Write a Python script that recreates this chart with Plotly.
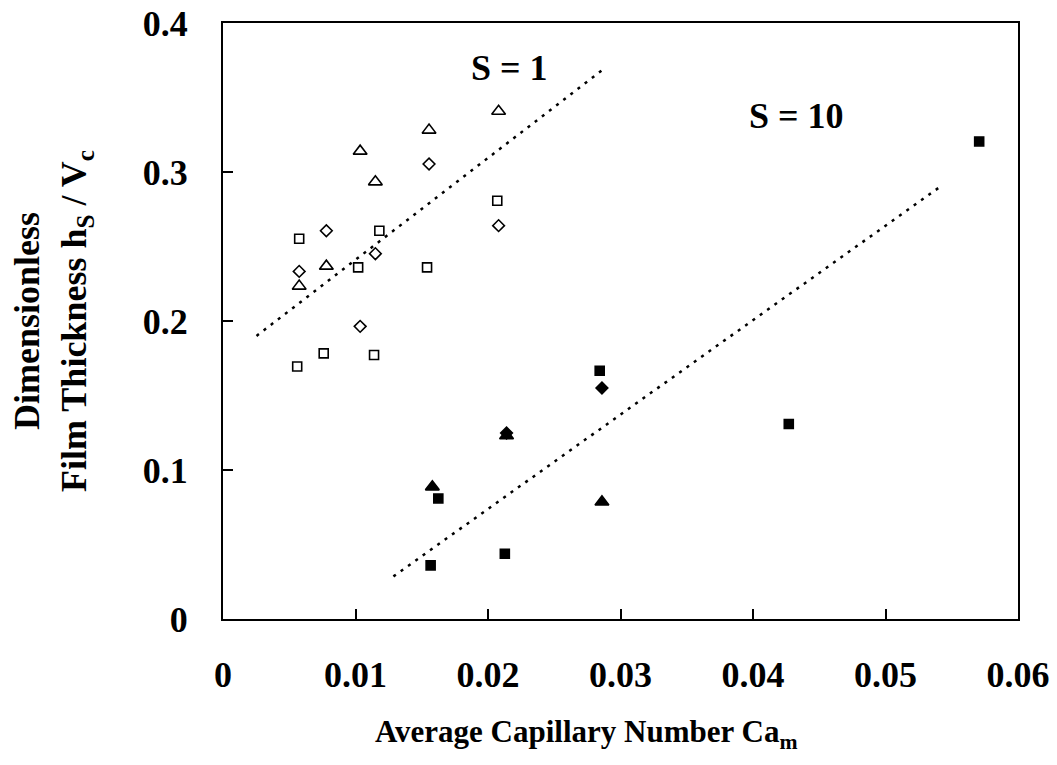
import plotly.graph_objects as go

# ---- data ----
s1_sq_x = [0.0056, 0.00575, 0.0076, 0.0102, 0.0114, 0.0118, 0.0154, 0.0207]
s1_sq_y = [0.1695, 0.2552, 0.1783, 0.2360, 0.1772, 0.2606, 0.2360, 0.2807]
s1_di_x = [0.00575, 0.0078, 0.01035, 0.0115, 0.01555, 0.0208]
s1_di_y = [0.2333, 0.2606, 0.1964, 0.2452, 0.3054, 0.2640]
s1_tr_x = [0.00575, 0.0078, 0.01035, 0.0115, 0.01555, 0.0208]
s1_tr_y = [0.2234, 0.2368, 0.3140, 0.2934, 0.3281, 0.3408]

s10_sq_x = [0.01567, 0.01625, 0.02127, 0.02843, 0.0427, 0.05707]
s10_sq_y = [0.0360, 0.0809, 0.0438, 0.1666, 0.1309, 0.3205]
s10_di_x = [0.0214, 0.0286]
s10_di_y = [0.1248, 0.1550]
s10_tr_x = [0.0158, 0.0214, 0.0286]
s10_tr_y = [0.0887, 0.1230, 0.0786]

trend1_x = [0.00253, 0.02873]
trend1_y = [0.190, 0.3691]
trend10_x = [0.01286, 0.0540]
trend10_y = [0.0286, 0.2893]

x_ticks = [0, 0.01, 0.02, 0.03, 0.04, 0.05, 0.06]
x_labels = ["0", "0.01", "0.02", "0.03", "0.04", "0.05", "0.06"]
y_ticks = [0, 0.1, 0.2, 0.3, 0.4]
y_labels = ["0", "0.1", "0.2", "0.3", "0.4"]

labels_text = ["S = 1", "S = 10"]
labels_x = [0.02165, 0.04326]
labels_y = [0.3700, 0.3373]

x_title = "Average Capillary Number Ca<sub>m</sub>"
y_title = "Dimensionless<br>Film Thickness h<sub>S</sub> / V<sub>c</sub>"

FONT = "Liberation Serif, Times New Roman, serif"

fig = go.Figure()

dot = "3px,6px"
fig.add_trace(go.Scatter(x=trend1_x, y=trend1_y, mode="lines",
                         line=dict(color="black", width=2.5, dash=dot), showlegend=False))
fig.add_trace(go.Scatter(x=trend10_x, y=trend10_y, mode="lines",
                         line=dict(color="black", width=2.5, dash=dot), showlegend=False))

def add_markers(xs, ys, symbol, size):
    fig.add_trace(go.Scatter(
        x=xs, y=ys, mode="markers", showlegend=False,
        marker=dict(symbol=symbol, size=size, color="black",
                    line=dict(color="black", width=1.6))))

add_markers(s1_sq_x, s1_sq_y, "square-open", 9)
add_markers(s1_di_x, s1_di_y, "diamond-open", 9)
add_markers(s1_tr_x, s1_tr_y, "triangle-up-open", 12)
add_markers(s10_sq_x, s10_sq_y, "square", 9)
add_markers(s10_di_x, s10_di_y, "diamond", 9)
add_markers(s10_tr_x, s10_tr_y, "triangle-up", 12)

for t, x, y in zip(labels_text, labels_x, labels_y):
    fig.add_annotation(x=x, y=y, text=t, showarrow=False,
                       font=dict(family=FONT, size=36, color="black", weight="bold"))

# x-axis title (placed slightly left of plot centre, as in the reference)
fig.add_annotation(x=0.4566, y=-0.193, xref="paper", yref="paper",
                   text=x_title, showarrow=False, xanchor="center", yanchor="middle",
                   font=dict(family=FONT, size=31, color="black", weight="bold"))

axis_common = dict(
    showgrid=False, zeroline=False, showline=True, linecolor="black", linewidth=2,
    mirror=True, ticks="inside", ticklen=10, tickwidth=1.5, tickcolor="black",
    tickfont=dict(family=FONT, size=36, color="black", weight="bold"),
)

fig.update_xaxes(range=[0, 0.06], tickvals=x_ticks, ticktext=x_labels,
                 ticklabelstandoff=23, **axis_common)
fig.update_yaxes(range=[0, 0.4], tickvals=y_ticks, ticktext=y_labels,
                 ticklabelstandoff=26,
                 title=dict(text=y_title,
                            font=dict(family=FONT, size=36, color="black", weight="bold"),
                            standoff=45),
                 **axis_common)

fig.update_layout(
    width=1057, height=765,
    margin=dict(l=223, r=39, t=23, b=146, autoexpand=False),
    plot_bgcolor="white", paper_bgcolor="white",
)

fig.write_html("out.html", config={"displayModeBar": False},
               post_script="document.body.style.margin='0';document.body.style.padding='0';")
